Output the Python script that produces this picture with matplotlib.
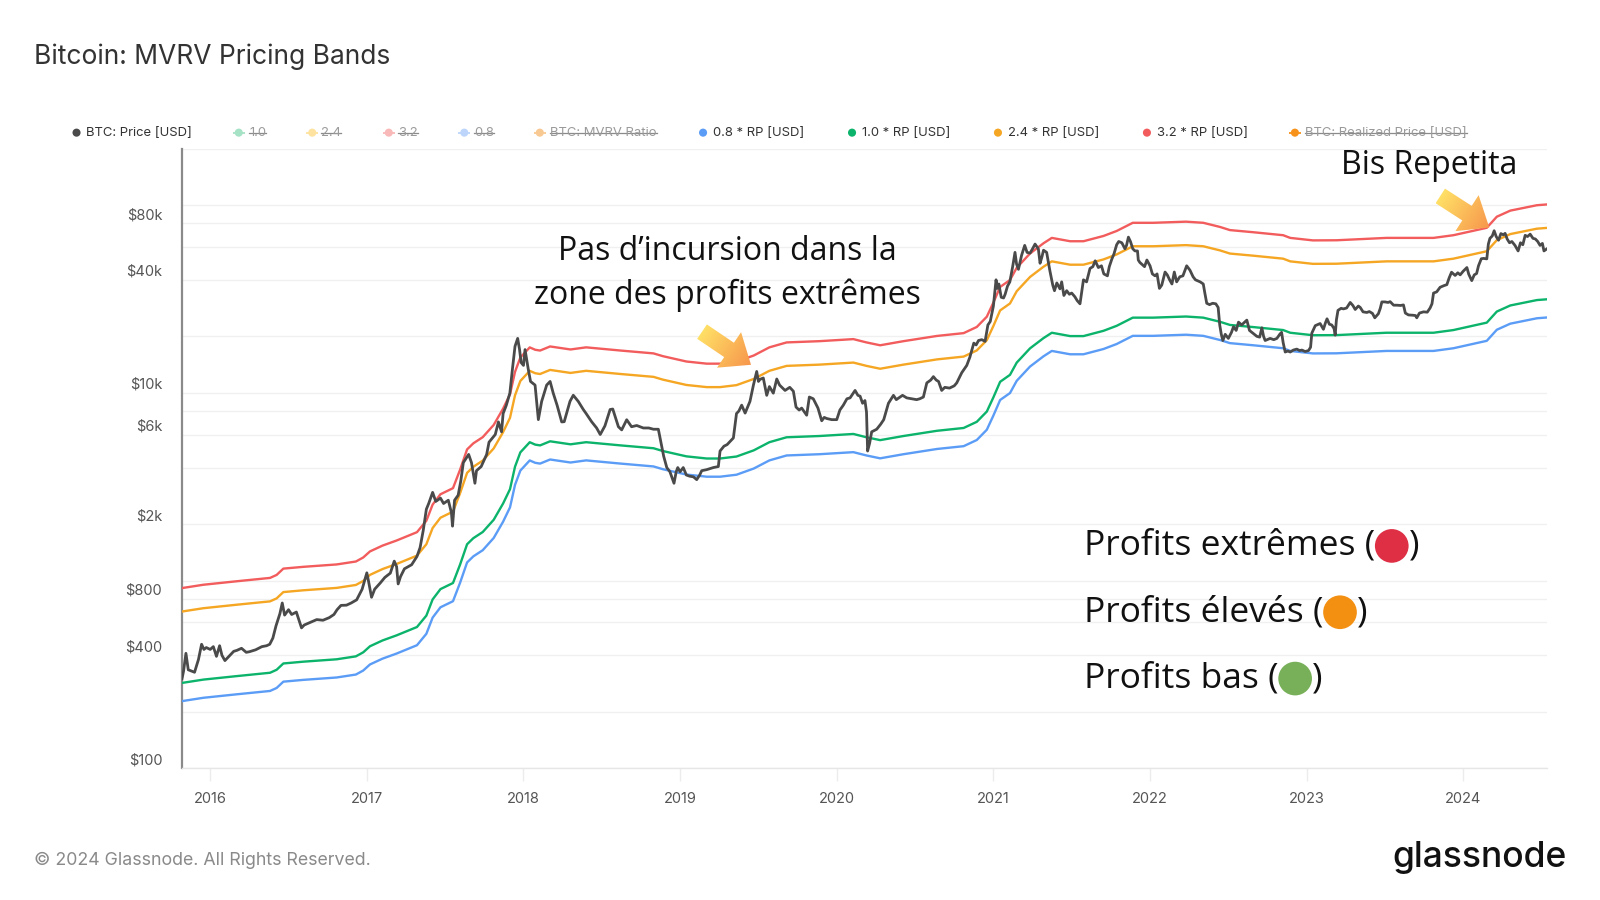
import numpy as np
import matplotlib
matplotlib.use("Agg")
import matplotlib.pyplot as plt
from matplotlib.transforms import ScaledTranslation
from matplotlib.patches import Polygon, Circle
from matplotlib.colors import LinearSegmentedColormap
from matplotlib.ticker import NullLocator

# ---------------- data (decimal years) ----------------
price_t = [2015.82, 2015.83, 2015.845, 2015.86, 2015.88, 2015.90, 2015.925, 2015.945, 2015.96, 2015.975,
           2016.00, 2016.02, 2016.04, 2016.06, 2016.075, 2016.094, 2016.12, 2016.15, 2016.17, 2016.20,
           2016.23, 2016.25, 2016.29, 2016.33, 2016.36, 2016.38, 2016.40, 2016.42, 2016.445, 2016.46,
           2016.475, 2016.50, 2016.52, 2016.55, 2016.583, 2016.60, 2016.64, 2016.68, 2016.72, 2016.76,
           2016.79, 2016.81, 2016.835, 2016.87, 2016.90, 2016.935, 2016.97, 2017.00, 2017.01, 2017.03,
           2017.05, 2017.085, 2017.115, 2017.15, 2017.175, 2017.19, 2017.20, 2017.215, 2017.24, 2017.286,
           2017.32, 2017.34, 2017.36, 2017.38, 2017.395, 2017.42, 2017.44, 2017.47, 2017.49, 2017.52,
           2017.54, 2017.547, 2017.56, 2017.583, 2017.60, 2017.616, 2017.65, 2017.668, 2017.69, 2017.70,
           2017.73, 2017.765, 2017.78, 2017.82, 2017.84, 2017.86, 2017.87, 2017.89, 2017.913, 2017.93,
           2017.946, 2017.963, 2017.975, 2017.985, 2018.00, 2018.01, 2018.03, 2018.045, 2018.074, 2018.095,
           2018.116, 2018.148, 2018.17, 2018.19, 2018.215, 2018.244, 2018.26, 2018.297, 2018.318, 2018.35,
           2018.382, 2018.40, 2018.435, 2018.467, 2018.49, 2018.52, 2018.553, 2018.57, 2018.606, 2018.627,
           2018.659, 2018.69, 2018.723, 2018.765, 2018.80, 2018.83, 2018.861, 2018.875, 2018.895, 2018.915,
           2018.935, 2018.961, 2018.975, 2018.985, 2019.00, 2019.02, 2019.04, 2019.06, 2019.085, 2019.106,
           2019.125, 2019.138, 2019.17, 2019.212, 2019.244, 2019.255, 2019.28, 2019.30, 2019.34, 2019.36,
           2019.375, 2019.393, 2019.415, 2019.446, 2019.468, 2019.489, 2019.50, 2019.51, 2019.531, 2019.553,
           2019.57, 2019.595, 2019.617, 2019.635, 2019.67, 2019.70, 2019.723, 2019.74, 2019.76, 2019.776,
           2019.808, 2019.825, 2019.85, 2019.88, 2019.904, 2019.92, 2019.936, 2019.968, 2020.00, 2020.02,
           2020.042, 2020.065, 2020.085, 2020.117, 2020.135, 2020.149, 2020.165, 2020.18, 2020.19, 2020.197,
           2020.21, 2020.223, 2020.255, 2020.28, 2020.30, 2020.33, 2020.362, 2020.38, 2020.404, 2020.42,
           2020.447, 2020.48, 2020.51, 2020.53, 2020.553, 2020.575, 2020.60, 2020.617, 2020.635, 2020.65,
           2020.67, 2020.69, 2020.72, 2020.75, 2020.766, 2020.798, 2020.83, 2020.85, 2020.875, 2020.89,
           2020.905, 2020.926, 2020.947, 2020.965, 2020.98, 2021.00, 2021.017, 2021.025, 2021.035, 2021.05,
           2021.065, 2021.075, 2021.09, 2021.105, 2021.124, 2021.138, 2021.148, 2021.16, 2021.18, 2021.20,
           2021.215, 2021.234, 2021.25, 2021.266, 2021.287, 2021.298, 2021.31, 2021.32, 2021.34, 2021.36,
           2021.379, 2021.39, 2021.405, 2021.425, 2021.436, 2021.45, 2021.468, 2021.485, 2021.50, 2021.52,
           2021.535, 2021.553, 2021.565, 2021.575, 2021.595, 2021.617, 2021.635, 2021.65, 2021.67, 2021.69,
           2021.705, 2021.728, 2021.74, 2021.756, 2021.77, 2021.787, 2021.80, 2021.82, 2021.84, 2021.85,
           2021.862, 2021.875, 2021.89, 2021.904, 2021.92, 2021.925, 2021.935, 2021.947, 2021.965, 2021.98,
           2022.00, 2022.015, 2022.032, 2022.045, 2022.06, 2022.075, 2022.096, 2022.11, 2022.125, 2022.14,
           2022.155, 2022.17, 2022.19, 2022.21, 2022.234, 2022.255, 2022.275, 2022.29, 2022.32, 2022.34,
           2022.35, 2022.362, 2022.38, 2022.40, 2022.42, 2022.435, 2022.445, 2022.455, 2022.465, 2022.48,
           2022.50, 2022.52, 2022.533, 2022.55, 2022.565, 2022.585, 2022.618, 2022.635, 2022.65, 2022.682,
           2022.70, 2022.714, 2022.725, 2022.735, 2022.767, 2022.79, 2022.81, 2022.83, 2022.84, 2022.85,
           2022.863, 2022.88, 2022.895, 2022.915, 2022.937, 2022.955, 2022.97, 2022.99, 2023.012, 2023.025,
           2023.033, 2023.055, 2023.07, 2023.086, 2023.107, 2023.12, 2023.13, 2023.145, 2023.16, 2023.175,
           2023.182, 2023.19, 2023.20, 2023.22, 2023.235, 2023.255, 2023.278, 2023.295, 2023.31, 2023.33,
           2023.342, 2023.36, 2023.384, 2023.40, 2023.42, 2023.435, 2023.458, 2023.47, 2023.48, 2023.50,
           2023.52, 2023.533, 2023.555, 2023.576, 2023.60, 2023.618, 2023.63, 2023.65, 2023.68, 2023.695,
           2023.703, 2023.72, 2023.746, 2023.77, 2023.788, 2023.80, 2023.81, 2023.83, 2023.852, 2023.875,
           2023.895, 2023.91, 2023.925, 2023.948, 2023.965, 2023.98, 2024.00, 2024.023, 2024.035, 2024.054,
           2024.07, 2024.085, 2024.097, 2024.115, 2024.13, 2024.15, 2024.16, 2024.17, 2024.185, 2024.197,
           2024.21, 2024.225, 2024.24, 2024.255, 2024.267, 2024.28, 2024.295, 2024.31, 2024.33, 2024.35,
           2024.365, 2024.38, 2024.395, 2024.41, 2024.427, 2024.445, 2024.46, 2024.475, 2024.49, 2024.505,
           2024.515, 2024.534]
price_v = [300, 330, 410, 335, 330, 325, 380, 458, 430, 440,
           430, 445, 395, 450, 400, 375, 395, 420, 425, 436,
           415, 418, 428, 445, 450, 458, 494, 574, 667, 760,
           655, 700, 660, 680, 560, 580, 600, 620, 615, 635,
           660, 700, 738, 740, 760, 790, 900, 1100, 1000, 815,
           900, 970, 1040, 1096, 1270, 1186, 960, 1050, 1156, 1215,
           1345, 1500, 1850, 2400, 2575, 2950, 2640, 2750, 2575, 2680,
           2300, 1950, 2680, 2850, 3400, 4250, 4700, 4250, 3300, 3850,
           4050, 4700, 5460, 6000, 7000, 6200, 7760, 8570, 9960, 13500,
           17700, 19500, 17000, 14500, 14000, 17000, 13450, 11500, 11000, 7200,
           9000, 11000, 11500, 9960, 8570, 7000, 7020, 9010, 9710, 9000,
           8150, 7760, 7020, 6500, 6000, 6670, 8150, 8200, 6600, 6350,
           7190, 6600, 6700, 6500, 6500, 6400, 6400, 5600, 4600, 4000,
           3800, 3300, 3800, 4000, 3800, 4000, 3650, 3600, 3570, 3450,
           3650, 3850, 3900, 4000, 4050, 4900, 5200, 5300, 5750, 7760,
           8000, 8600, 7800, 9010, 11000, 13000, 11500, 11800, 12000, 9700,
           10800, 9960, 11850, 11000, 10300, 10700, 10200, 8400, 8100, 8300,
           7600, 9500, 9300, 8300, 7100, 7400, 7300, 7200, 7200, 8100,
           8600, 9300, 9400, 10300, 9700, 9600, 8800, 9100, 7900, 4900,
           5400, 6200, 6400, 6800, 7200, 8800, 9700, 9200, 9500, 9700,
           9400, 9300, 9200, 9300, 9500, 11300, 11700, 12200, 11700, 11500,
           10300, 10700, 10600, 10900, 11300, 12800, 14000, 15500, 18400, 18000,
           19000, 19200, 18800, 23000, 24000, 29000, 40000, 36000, 38000, 32300,
           32000, 33500, 37000, 39000, 47500, 56000, 48500, 45500, 54000, 61000,
           56000, 55500, 58500, 62000, 58500, 49000, 53000, 57500, 56000, 45000,
           37500, 35000, 38500, 35800, 39000, 33000, 35000, 33500, 34000, 32500,
           31000, 29800, 35000, 40000, 39000, 46000, 47000, 50500, 46500, 47500,
           43000, 42000, 47000, 51500, 55000, 61500, 64000, 63000, 58500, 61000,
           67500, 64000, 58500, 57000, 57000, 51000, 49500, 48500, 47000, 51000,
           47500, 43000, 42000, 43000, 36000, 37500, 44000, 42500, 40000, 38000,
           44000, 39000, 41500, 42000, 47500, 45000, 41500, 40000, 39000, 38000,
           34000, 30000, 29500, 30000, 29800, 28500, 23000, 20500, 19000, 20500,
           19500, 21000, 22500, 21500, 23800, 23000, 24400, 21500, 21000, 20000,
           19800, 22200, 20000, 19000, 19500, 19200, 19500, 20600, 21000, 18500,
           16500, 16700, 16500, 16900, 17100, 16800, 16900, 16600, 16800, 17500,
           20800, 22800, 23100, 23400, 21800, 23600, 24800, 23200, 23000, 22000,
           20300, 24500, 27500, 28200, 28000, 28300, 30300, 29200, 27800, 29000,
           28500, 27000, 26800, 27100, 26500, 25100, 26400, 28200, 30500, 30500,
           30300, 30600, 29300, 29300, 29200, 29400, 26600, 26000, 25900, 25800,
           25100, 26600, 27000, 26900, 28300, 29800, 34000, 34500, 36500, 37200,
           37700, 41000, 43900, 42200, 43600, 42500, 44500, 46500, 42800, 39600,
           42500, 43200, 47500, 51800, 52000, 51700, 62000, 66500, 68500, 73000,
           68000, 65000, 70500, 69500, 70700, 66000, 63000, 64000, 61000, 57000,
           63000, 61500, 69000, 68000, 70000, 66500, 66000, 64000, 61000, 62500,
           57000, 58500]

rp_t = [2015.818, 2015.956, 2016.169, 2016.382, 2016.424, 2016.467, 2016.594, 2016.807, 2016.93, 2016.977,
        2017.02, 2017.10, 2017.19, 2017.32, 2017.38, 2017.42, 2017.47, 2017.55, 2017.595, 2017.64,
        2017.68, 2017.74, 2017.81, 2017.87, 2017.914, 2017.946, 2017.98, 2018.04, 2018.075, 2018.106,
        2018.17, 2018.30, 2018.40, 2018.62, 2018.83, 2018.89, 2019.04, 2019.17, 2019.255, 2019.36,
        2019.47, 2019.57, 2019.68, 2019.89, 2020.106, 2020.19, 2020.277, 2020.426, 2020.64, 2020.81,
        2020.894, 2020.958, 2021.0, 2021.043, 2021.106, 2021.149, 2021.234, 2021.32, 2021.373, 2021.49,
        2021.575, 2021.703, 2021.787, 2021.89, 2022.02, 2022.23, 2022.34, 2022.447, 2022.51, 2022.66,
        2022.85, 2022.895, 2023.04, 2023.19, 2023.51, 2023.81, 2023.937, 2024.15, 2024.214, 2024.30,
        2024.47, 2024.534]
rp_v = [285, 297, 310, 323, 335, 362, 370, 381, 395, 415,
        447, 480, 511, 566, 651, 794, 901, 971, 1216, 1562,
        1683, 1815, 2109, 2576, 3069, 4043, 4819, 5458, 5300, 5250,
        5520, 5320, 5460, 5250, 5070, 4900, 4590, 4470, 4470, 4580,
        4940, 5460, 5800, 5890, 6040, 5800, 5600, 5890, 6280, 6500,
        7010, 7950, 9460, 11450, 12470, 14490, 17260, 19570, 20900, 20060,
        20060, 21400, 22750, 25150, 25150, 25500, 25150, 23900, 23000, 22400,
        21600, 20900, 20270, 20300, 20900, 20900, 21600, 23660, 27100, 29200,
        31200, 31500]

band_mult = [0.8, 1.0, 2.4, 3.2]
band_colors = ['#5b9cf6', '#0bb36b', '#f5a623', '#f25c5c']
price_color = '#4a4a4a'

year_ticks = list(range(2016, 2025))
y_grid = [100, 200, 400, 600, 800, 1000, 2000, 4000, 6000, 8000, 10000,
          20000, 40000, 60000, 80000, 100000, 200000]
y_labels = {100: '$100', 400: '$400', 800: '$800', 2000: '$2k', 6000: '$6k',
            10000: '$10k', 40000: '$40k', 80000: '$80k'}

legend_items = [
    ('dot', price_color, 75, 'BTC: Price [USD]', 84, False),
    ('line', '#a6e2c5', 234, '1.0', 244, True),
    ('line', '#fde2a0', 306, '2.4', 315, True),
    ('line', '#f9b9b9', 381, '3.2', 390, True),
    ('line', '#bdd5fb', 455, '0.8', 465, True),
    ('line', '#f9c993', 529, 'BTC: MVRV Ratio', 539, True),
    ('dot', band_colors[0], 689, '0.8 * RP [USD]', 699, False),
    ('dot', band_colors[1], 835, '1.0 * RP [USD]', 845, False),
    ('dot', band_colors[2], 978, '2.4 * RP [USD]', 988, False),
    ('dot', band_colors[3], 1124, '3.2 * RP [USD]', 1134, False),
    ('line', '#f7931a', 1269, 'BTC: Realized Price [USD]', 1279, True),
]

zone_labels = ['Profits extrêmes (', 'Profits élevés (', 'Profits bas (']
zone_colors = ['#de2f45', '#f39012', '#78b05a']

# ---------------- figure ----------------
SW, SH = 1568, 882
fig = plt.figure(figsize=(16, 9), dpi=100)
fig.patch.set_facecolor('white')


def frac(x0, y0, x1, y1):
    return [x0 / SW, 1 - y1 / SH, (x1 - x0) / SW, (y1 - y0) / SH]


ax = fig.add_axes(frac(178, 145.6, 1516, 753))
ax.set_yscale('log')
ax.set_xlim(2015.8176, 2024.534)
ax.set_ylim(100, 200000)

rp = np.array(rp_v, dtype=float)
for m, c in zip(band_mult, band_colors):
    ax.plot(rp_t, rp * m, color=c, lw=1.7, solid_joinstyle='round', zorder=3)
ax.plot(price_t, price_v, color=price_color, lw=2.0, solid_joinstyle='round', zorder=4)

ax.set_yticks(y_grid)
ax.set_yticklabels([y_labels.get(v, '') for v in y_grid])
ax.yaxis.set_minor_locator(NullLocator())
ax.tick_params(axis='y', length=0, pad=14, labelsize=10.5, labelcolor='#555555')
off = ScaledTranslation(0, 9.5 / 100, fig.dpi_scale_trans)
for lbl in ax.get_yticklabels():
    lbl.set_transform(lbl.get_transform() + off)
    lbl.set_fontfamily('Inter')
ax.grid(axis='y', color='#f0f0f0', lw=1.0, zorder=0)

ax.set_xticks(year_ticks)
ax.set_xticklabels([str(y) for y in year_ticks], fontfamily='Inter')
ax.xaxis.set_minor_locator(NullLocator())
ax.tick_params(axis='x', length=9, width=1, color='#ececec', pad=8,
               labelsize=10.5, labelcolor='#555555')

for s in ['top', 'right']:
    ax.spines[s].set_visible(False)
ax.spines['left'].set_color('#8a8a8a')
ax.spines['left'].set_linewidth(1.6)
ax.spines['bottom'].set_color('#e6e6e6')
ax.spines['bottom'].set_linewidth(1.0)

# ---------------- overlay in pixel coords ----------------
ov = fig.add_axes([0, 0, 1, 1], zorder=5)
ov.set_xlim(0, SW)
ov.set_ylim(SH, 0)
ov.axis('off')
ov.patch.set_alpha(0)

renderer = fig.canvas.get_renderer()
inv = ov.transData.inverted()


def extent(t):
    bb = t.get_window_extent(renderer=renderer)
    (x0, y0), (x1, y1) = inv.transform([[bb.x0, bb.y0], [bb.x1, bb.y1]])
    return x0, x1, min(y0, y1), max(y0, y1)


# title
ov.text(33, 56, 'Bitcoin: MVRV Pricing Bands', fontsize=19, fontfamily='Inter',
        fontweight='normal', color='#333333', va='center', ha='left')

# legend row
for kind, col, mx, label, tx, struck in legend_items:
    if kind == 'line':
        ov.plot([mx - 6, mx + 6], [130, 130], color=col, lw=1.3, solid_capstyle='butt')
    ov.scatter([mx], [130], s=34, color=col, edgecolors='none', zorder=6)
    t = ov.text(tx, 130.5, label, fontsize=9.4, fontfamily='Inter',
                color='#9a9a9a' if struck else '#333333', va='center', ha='left')
    if struck:
        x0, x1, _, _ = extent(t)
        ov.plot([x0, x1], [130, 130], color='#8a8a8a', lw=0.9)


# gradient arrows
def grad_arrow(tail, tip, shaft_w=17, head_w=42, head_len=26,
               c0='#ffe066', c1='#f7964c'):
    tail = np.array(tail, float)
    tip = np.array(tip, float)
    d = tip - tail
    L = np.hypot(*d)
    u = d / L
    n = np.array([-u[1], u[0]])
    base = tip - u * head_len
    pts = [tail + n * shaft_w / 2, base + n * shaft_w / 2, base + n * head_w / 2, tip,
           base - n * head_w / 2, base - n * shaft_w / 2, tail - n * shaft_w / 2]
    poly = Polygon(pts, closed=True, facecolor='none', edgecolor='none',
                   transform=ov.transData)
    ov.add_patch(poly)
    xs = [p[0] for p in pts]
    ys = [p[1] for p in pts]
    x0, x1, y0, y1 = min(xs), max(xs), min(ys), max(ys)
    gx, gy = np.meshgrid(np.linspace(x0, x1, 200), np.linspace(y0, y1, 200))
    tt = ((gx - tail[0]) * u[0] + (gy - tail[1]) * u[1]) / L
    cmap = LinearSegmentedColormap.from_list('g', [c0, c1])
    im = ov.imshow(tt, extent=[x0, x1, y1, y0], origin='upper', cmap=cmap,
                   vmin=0, vmax=1, interpolation='bilinear', aspect='auto', zorder=6)
    im.set_clip_path(poly)


grad_arrow((688, 325), (736, 357.5))
grad_arrow((1411.5, 192), (1459.5, 223))

# annotations
ov.text(713, 246, 'Pas d\u2019incursion dans la', fontsize=23, fontfamily='Open Sans',
        color='#111111', ha='center', va='center')
ov.text(713, 289, 'zone des profits extrêmes', fontsize=23, fontfamily='Open Sans',
        color='#111111', ha='center', va='center')
ov.text(1401, 162, 'Bis Repetita', fontsize=23, fontfamily='Open Sans',
        color='#111111', ha='center', va='center')

for lab, col, yc in zip(zone_labels, zone_colors, [535, 600, 665]):
    t = ov.text(1062, yc, lab, fontsize=25.5, fontfamily='Open Sans', color='#111111',
                ha='left', va='center')
    x0, x1, _, _ = extent(t)
    r = 16.5
    cx = x1 + r
    ov.add_patch(Circle((cx, yc), r, facecolor=col, edgecolor='none', zorder=6))
    ov.text(cx + r, yc, ')', fontsize=25.5, fontfamily='Open Sans', color='#111111',
            ha='left', va='center')

# footer
ov.text(33, 843, '\u00a9 2024 Glassnode. All Rights Reserved.', fontsize=12.8,
        fontfamily='Inter', color='#8a8a8a', ha='left', va='center')
ov.text(1535, 840, 'glassnode', fontsize=25.5, fontfamily='Inter', fontweight='medium',
        color='#111111', ha='right', va='center')

ov.set_xlim(0, SW)
ov.set_ylim(SH, 0)

fig.savefig('out.png', dpi=100, facecolor='white')
